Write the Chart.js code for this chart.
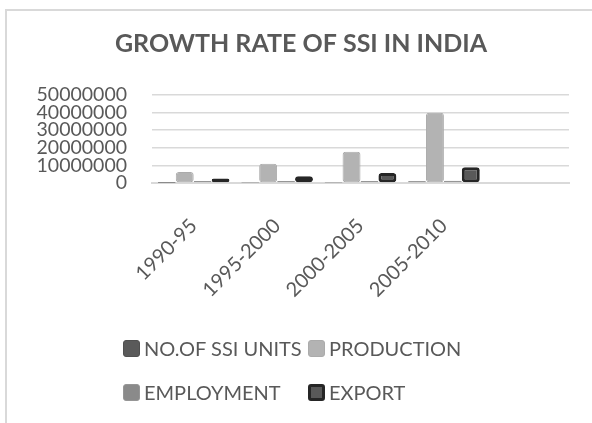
<!DOCTYPE html>
<html>
<head>
<meta charset="utf-8">
<script src="https://cdn.jsdelivr.net/npm/chart.js@4.4.1/dist/chart.umd.min.js"></script>
<style>
html,body{margin:0;padding:0;background:#fff;}
#wrap{position:relative;width:592px;height:423px;overflow:hidden;}
#frame{position:absolute;left:5px;top:9px;width:700px;height:600px;border-left:2px solid #d9d9d9;border-top:2px solid #d9d9d9;box-sizing:border-box;}
canvas{position:absolute;left:0;top:0;}
#legend{position:absolute;left:0;top:0;width:592px;height:423px;font-family:Lato,sans-serif;font-size:20px;color:#595959;pointer-events:none;}
.li{position:absolute;display:flex;align-items:center;white-space:nowrap;}
.sw{width:17px;height:17px;border-radius:3px;box-sizing:border-box;margin-right:4px;}
</style>
</head>
<body>
<div id="wrap">
<div id="frame"></div>
<canvas id="c" width="592" height="423"></canvas>
<div id="legend"></div>
</div>
<script>
const categories = ['1990-95', '1995-2000', '2000-2005', '2005-2010', ''];
const ssiUnits   = [60000, 90000, 150000, 1000000];
const production = [6200000, 10900000, 17800000, 39900000];
const employment = [1200000, 1200000, 1200000, 1300000];
const exportVals = [2600000, 3900000, 5700000, 8900000];
const seriesNames = ['NO.OF SSI UNITS', 'PRODUCTION', 'EMPLOYMENT', 'EXPORT'];
const yTicks = [0, 10000000, 20000000, 30000000, 40000000, 50000000];

const fills   = ['#5a5a5a', '#b3b3b3', '#8a8a8a', '#595959'];
const borders = ['#505050', '#ababab', '#969696', '#262626'];
const bws     = [1, 1, 1, 3];
const txt = '#595959';

const chart = new Chart(document.getElementById('c'), {
  type: 'bar',
  data: {
    labels: categories,
    datasets: [ssiUnits, production, employment, exportVals].map((d, i) => ({
      label: seriesNames[i],
      data: d,
      backgroundColor: fills[i],
      borderColor: borders[i],
      borderWidth: bws[i],
      borderRadius: 3,
      borderSkipped: false,
      barPercentage: 1.0,
      categoryPercentage: 0.86
    }))
  },
  options: {
    responsive: false,
    animation: false,
    devicePixelRatio: 1,
    layout: { padding: { left: 33, right: 23, top: 0, bottom: 100 } },
    plugins: {
      legend: { display: false },
      tooltip: { enabled: false },
      title: {
        display: true,
        text: 'GROWTH RATE OF SSI IN INDIA',
        color: txt,
        font: { family: 'Lato', size: 25, weight: 'bold' },
        padding: { top: 29, bottom: 36 }
      }
    },
    scales: {
      x: {
        grid: { display: false, drawTicks: false },
        border: { display: true, color: '#d9d9d9', width: 2 },
        ticks: {
          color: txt,
          font: { family: 'Lato', size: 20 },
          minRotation: 45, maxRotation: 45,
          autoSkip: false,
          padding: 31
        },
        afterFit: s => { s.height = 140; }
      },
      y: {
        min: 0, max: 50000000,
        afterBuildTicks: s => { s.ticks = yTicks.map(v => ({ value: v })); },
        grid: { color: '#d9d9d9', lineWidth: 1.5, drawTicks: false },
        border: { display: false },
        ticks: {
          color: txt,
          font: { family: 'Lato', size: 19.5, lineHeight: 1 },
          autoSkip: false,
          padding: 25,
          callback: v => String(v)
        },
        afterFit: s => { s.width = 119; }
      }
    }
  }
});

// legend built from chart datasets
const lg = document.getElementById('legend');
const pos = [[123, 348], [308, 348], [123, 392], [308, 392]];
chart.data.datasets.forEach((ds, i) => {
  const el = document.createElement('div');
  el.className = 'li';
  el.style.left = pos[i][0] + 'px';
  el.style.top = (pos[i][1] - 12) + 'px';
  el.style.height = '24px';
  const sw = document.createElement('div');
  sw.className = 'sw';
  sw.style.background = ds.backgroundColor;
  sw.style.border = (ds.borderWidth > 1 ? 3 : 1) + 'px solid ' + ds.borderColor;
  const t = document.createElement('span');
  t.textContent = ds.label;
  el.appendChild(sw); el.appendChild(t);
  lg.appendChild(el);
});
</script>
</body>
</html>
